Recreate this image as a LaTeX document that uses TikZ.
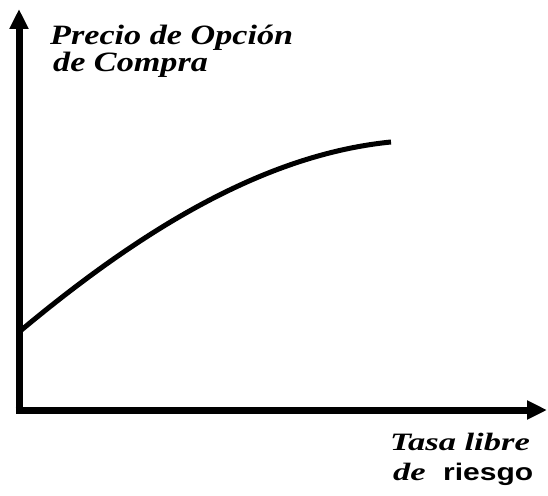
\documentclass[tikz,border=0pt]{standalone}
\usepackage{fontspec}
\setmainfont{Liberation Serif}
\newfontfamily\lsans{Liberation Sans}
\usetikzlibrary{arrows.meta}
\tikzset{
  axis/.style={line width=7pt,-{Triangle[length=20pt,width=18pt]}},
  curveline/.style={line width=5pt},
  lbl/.style={anchor=base west,inner sep=0pt}
}
\begin{document}
\begin{tikzpicture}[x=1pt,y=-1pt]
\useasboundingbox (0,0) rectangle (548,495);
\coordinate (O) at (19,410);
\coordinate (ytip) at (19,9);
\coordinate (xtip) at (547,410);
\coordinate (start) at (19,332);
\coordinate (c1) at (135,235);
\coordinate (c2) at (260,155);
\coordinate (end) at (391,142);
\draw[axis] ([yshift=3.5pt]O) -- (ytip);
\draw[axis] ([xshift=-3.5pt]O) -- (xtip);
\draw[curveline] (start) .. controls (c1) and (c2) .. (end);
\node[lbl,font=\fontsize{28}{28}\selectfont\bfseries\itshape] (ylab1) at (50,45) {\scalebox{1.22}[1]{Precio de Opción}};
\node[lbl,font=\fontsize{28}{28}\selectfont\bfseries\itshape] (ylab2) at (53,71) {\scalebox{1.22}[1]{de Compra}};
\node[lbl,font=\fontsize{25}{25}\selectfont\bfseries\itshape] (xlab1) at (390,450) {\scalebox{1.38}[1]{Tasa libre}};
\node[lbl,font=\fontsize{25}{25}\selectfont\bfseries\itshape] (xlab2) at (393,480) {\scalebox{1.38}[1]{de}};
\node[lbl,font=\fontsize{24}{24}\selectfont\lsans\bfseries] (xlab3) at (443,480) {\scalebox{1.25}[1]{riesgo}};
\end{tikzpicture}
\end{document}
